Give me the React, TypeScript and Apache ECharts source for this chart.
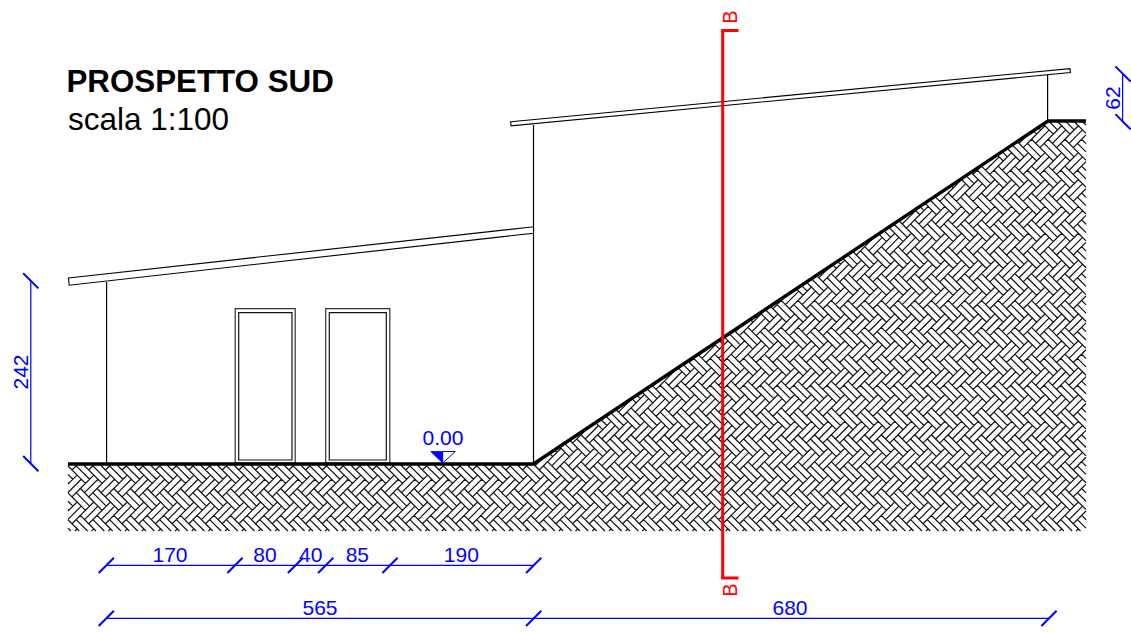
import React, { useEffect, useRef } from "react";
import * as echarts from "echarts";

type Seg = number[];
const BLACK = "#000000";
const BLUE = "#0000ff";
const RED = "#ff0000";

const groundProfile = [[68, 464], [533.5, 464], [1048, 121], [1086, 121]];
const hatchBottom = 531;
const hatchRight = 1086;

const upperRoof = [[510.7, 121.8], [1070, 68.6], [1070.4, 72.6], [511.1, 125.8]];
const lowerRoof = [[68.4, 278], [533.5, 226.8], [533.5, 233.2], [69.2, 285.2]];
const walls: Seg[] = [[106.6, 282, 106.6, 464], [533.5, 125, 533.5, 464], [1047.6, 72, 1047.6, 121]];
const doorOuter = [[235.2, 308.7, 295.2, 463], [325.7, 308.7, 389.8, 463]];
const doorInner = [[238.7, 312.7, 292, 460], [329.3, 312.7, 386.3, 460]];

const levelFilled = [[430.7, 451.5], [442.7, 451.5], [442.7, 463]];
const levelOpen = [[442.7, 451.5], [455.3, 451.5], [442.7, 463]];

const dimLines: Seg[] = [
  [106.3, 565.4, 533.7, 565.4],
  [106.3, 618.4, 1049, 618.4],
  [30.8, 280.8, 30.8, 463.6],
  [1122.6, 74, 1122.6, 121.7],
];
const slashTicks = [
  [106.3, 565.4], [235, 565.4], [295.5, 565.4], [325.7, 565.4], [390, 565.4], [533.7, 565.4],
  [106.3, 618.4], [533.7, 618.4], [1049, 618.4],
];
const backslashTicks = [[30.8, 280.8], [30.8, 463.6], [1123, 74], [1123, 121.7]];
const sectionLine: Seg[] = [
  [722.7, 30.5, 722.7, 578],
  [721.2, 30.5, 738.5, 30.5],
  [721.2, 578, 738.5, 578],
];

const dimLabels: [string, number, number, number][] = [
  ["170", 170, 554.5, 0], ["80", 265, 554.5, 0], ["40", 310.7, 554.5, 0],
  ["85", 357.3, 554.5, 0], ["190", 461.3, 554.5, 0], ["565", 320, 607.5, 0],
  ["680", 790, 607.5, 0], ["0.00", 443, 437.5, 0],
  ["242", 20, 372, 90], ["62", 1112, 98, 90],
];
const sectionLabels: [string, number, number, number][] = [["B", 730, 17, 90], ["B", 730, 590, 90]];
const titleText = "PROSPETTO SUD";
const subtitleText = "scala 1:100";

function clip(seg: number[], poly: number[][]): number[] | null {
  const [x1, y1, x2, y2] = seg;
  const dx = x2 - x1, dy = y2 - y1;
  let t0 = 0, t1 = 1;
  let cx = 0, cy = 0;
  poly.forEach((p) => { cx += p[0] / poly.length; cy += p[1] / poly.length; });
  for (let i = 0; i < poly.length; i++) {
    const a = poly[i], b = poly[(i + 1) % poly.length];
    let nx = -(b[1] - a[1]), ny = b[0] - a[0];
    if ((cx - a[0]) * nx + (cy - a[1]) * ny < 0) { nx = -nx; ny = -ny; }
    const denom = dx * nx + dy * ny;
    const num = (x1 - a[0]) * nx + (y1 - a[1]) * ny;
    if (denom === 0) { if (num < 0) return null; continue; }
    const t = -num / denom;
    if (denom > 0) t0 = Math.max(t0, t); else t1 = Math.min(t1, t);
    if (t0 >= t1) return null;
  }
  return [x1 + dx * t0, y1 + dy * t0, x1 + dx * t1, y1 + dy * t1];
}

function hatchSegments(): number[][] {
  const D = 11.8, L = 19;
  const ox = 72, oy = 470;
  const r = Math.SQRT1_2;
  const toS = (u: number, v: number) => [ox + (u + v) * r, oy + (u - v) * r];
  const pieces = [
    [[groundProfile[0][0], 465], [groundProfile[1][0], 465], [groundProfile[1][0], hatchBottom], [groundProfile[0][0], hatchBottom]],
    [groundProfile[1], groundProfile[2], [groundProfile[2][0], hatchBottom], [groundProfile[1][0], hatchBottom]],
    [groundProfile[2], groundProfile[3], [hatchRight, hatchBottom], [groundProfile[2][0], hatchBottom]],
  ];
  const out: number[][] = [];
  const edge = (u0: number, v0: number, u1: number, v1: number) => {
    const a = toS(u0, v0), b = toS(u1, v1);
    const s = [a[0], a[1], b[0], b[1]];
    if (Math.max(s[0], s[2]) < 60 || Math.min(s[0], s[2]) > 1095) return;
    for (const p of pieces) {
      const k = clip(s, p);
      if (k) out.push(k);
    }
  };
  const block = (u0: number, v0: number, u1: number, v1: number, alongU: boolean) => {
    edge(u0, v0, u1, v0); edge(u1, v0, u1, v1); edge(u1, v1, u0, v1); edge(u0, v1, u0, v0);
    if (alongU) edge(u0, (v0 + v1) / 2, u1, (v0 + v1) / 2);
    else edge((u0 + u1) / 2, v0, (u0 + u1) / 2, v1);
  };
  for (let n = -40; n <= 40; n++) {
    for (let m = -120; m <= 260; m++) {
      const u = m * D + n * L;
      const v = m * D - n * L;
      const sx = ox + (u + v) * r, sy = oy + (u - v) * r;
      if (sx < 30 || sx > 1130 || sy < 90 || sy > 570) continue;
      block(u, v, u + L, v + D, true);
      block(u + L, v + D - L, u + L + D, v + D, false);
    }
  }
  return out;
}

const hatch = hatchSegments();

function toPoints(api: any, pts: number[][]) {
  return pts.map((p) => api.coord(p));
}

function segSeries(name: string, segs: number[][], color: string, width: number): any {
  return {
    type: "custom", name, coordinateSystem: "cartesian2d", clip: false, silent: true,
    encode: { x: [0, 2], y: [1, 3] },
    data: segs,
    renderItem: (_p: any, api: any) => {
      const a = api.coord([api.value(0), api.value(1)]);
      const b = api.coord([api.value(2), api.value(3)]);
      return { type: "line", shape: { x1: a[0], y1: a[1], x2: b[0], y2: b[1] }, style: { stroke: color, lineWidth: width, fill: "none" } };
    },
  };
}

function polySeries(name: string, polys: number[][][], fill: string, stroke: string, width: number): any {
  return {
    type: "custom", name, coordinateSystem: "cartesian2d", clip: false, silent: true,
    data: polys.map((_, i) => [polys[i][0][0], polys[i][0][1], i]),
    renderItem: (p: any, api: any) => ({
      type: "polygon",
      shape: { points: toPoints(api, polys[p.dataIndex]) },
      style: { fill, stroke, lineWidth: width },
    }),
  };
}

function rectSeries(name: string, rects: number[][], stroke: string, width: number): any {
  return {
    type: "custom", name, coordinateSystem: "cartesian2d", clip: false, silent: true,
    data: rects,
    renderItem: (_p: any, api: any) => {
      const a = api.coord([api.value(0), api.value(1)]);
      const b = api.coord([api.value(2), api.value(3)]);
      return { type: "rect", shape: { x: a[0], y: a[1], width: b[0] - a[0], height: b[1] - a[1] }, style: { fill: "none", stroke, lineWidth: width } };
    },
  };
}

function textSeries(name: string, items: [string, number, number, number][], color: string, font: string, align: string): any {
  return {
    type: "custom", name, coordinateSystem: "cartesian2d", clip: false, silent: true,
    data: items.map((t) => [t[1], t[2], t[3]]),
    renderItem: (p: any, api: any) => {
      const a = api.coord([api.value(0), api.value(1)]);
      return {
        type: "text", x: a[0], y: a[1], rotation: (api.value(2) * Math.PI) / 180,
        style: { text: items[p.dataIndex][0], fill: color, font, textAlign: align, textVerticalAlign: "middle" },
      };
    },
  };
}

export default function App() {
  const ref = useRef<HTMLDivElement>(null);
  useEffect(() => {
    document.body.style.margin = "0";
    document.body.style.background = "#ffffff";
    const chart = echarts.init(ref.current!, null, { renderer: "svg" });
    const tickH = 7.6;
    chart.setOption({
      animation: false,
      backgroundColor: "#ffffff",
      grid: { left: 0, right: 0, top: 0, bottom: 0 },
      xAxis: { type: "value", min: 0, max: 1131, show: false },
      yAxis: { type: "value", min: 0, max: 632, inverse: true, show: false },
      series: [
        {
          type: "custom", name: "hatch", coordinateSystem: "cartesian2d", clip: false, silent: true,
          data: [[0, 0]],
          renderItem: (_p: any, api: any) => {
            const d = hatch.map((s) => {
              const a = api.coord([s[0], s[1]]);
              const b = api.coord([s[2], s[3]]);
              return `M${a[0].toFixed(2)} ${a[1].toFixed(2)}L${b[0].toFixed(2)} ${b[1].toFixed(2)}`;
            }).join("");
            return { type: "path", shape: { pathData: d }, style: { fill: "none", stroke: "#111111", lineWidth: 1.2 } };
          },
        },
        segSeries("walls", walls, BLACK, 1.2),
        polySeries("roofs", [upperRoof, lowerRoof], "#ffffff", BLACK, 1.1),
        rectSeries("doorOuter", doorOuter, "#333333", 1.2),
        rectSeries("doorInner", doorInner, "#111111", 1.2),
        {
          type: "custom", name: "ground", coordinateSystem: "cartesian2d", clip: false, silent: true,
          data: [[0, 0]],
          renderItem: (_p: any, api: any) => ({
            type: "polyline",
            shape: { points: toPoints(api, groundProfile) },
            style: { fill: "none", stroke: BLACK, lineWidth: 3.4, lineJoin: "miter" },
          }),
        },
        polySeries("levelFilled", [levelFilled], BLUE, BLUE, 0.8),
        polySeries("levelOpen", [levelOpen], "#ffffff", BLUE, 1),
        segSeries("dimLines", dimLines, BLUE, 1.2),
        segSeries("slashTicks", slashTicks.map((p) => [p[0] - tickH, p[1] + tickH, p[0] + tickH, p[1] - tickH]), BLUE, 2),
        segSeries("backslashTicks", backslashTicks.map((p) => [p[0] - tickH, p[1] - tickH, p[0] + tickH, p[1] + tickH]), BLUE, 2),
        segSeries("section", sectionLine, RED, 3),
        textSeries("dimLabels", dimLabels, BLUE, "21px 'Liberation Sans'", "center"),
        textSeries("sectionLabels", sectionLabels, RED, "20px 'Liberation Sans'", "center"),
        textSeries("title", [[titleText, 66.5, 81, 0]], BLACK, "bold 31.3px 'Liberation Sans'", "left"),
        textSeries("subtitle", [[subtitleText, 68, 119, 0]], BLACK, "31.5px 'Liberation Sans'", "left"),
      ],
    });
    return () => chart.dispose();
  }, []);
  return <div ref={ref} style={{ width: 1131, height: 632 }} />;
}
